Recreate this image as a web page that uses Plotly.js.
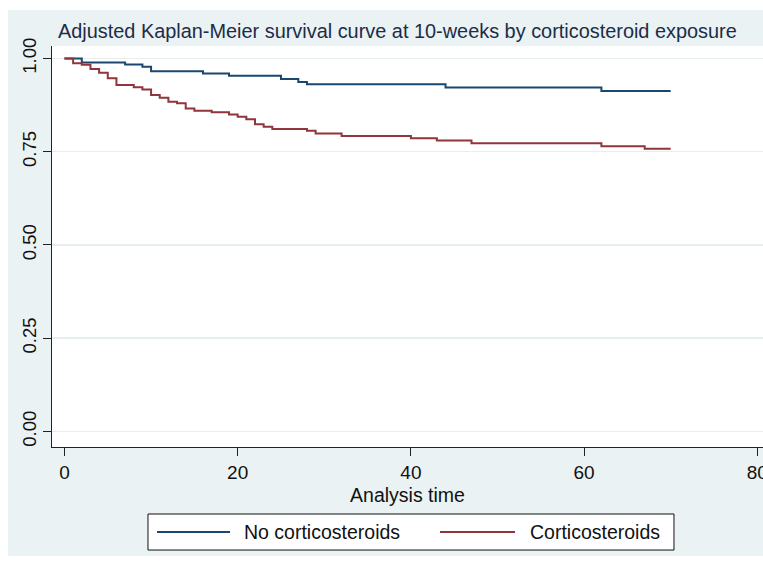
<!DOCTYPE html>
<html>
<head>
<meta charset="utf-8">
<script src="https://cdn.plot.ly/plotly-3.0.1.min.js"></script>
<style>
  html, body { margin: 0; padding: 0; background: #ffffff; overflow: hidden; width: 763px; height: 562px; }
  #chart { position: absolute; left: 8px; top: 10px; width: 755px; height: 546px; }
</style>
</head>
<body>
<div id="chart"></div>
<script>
// ---- data ----
const noSteroidTime = [0, 2, 7, 9, 10, 16, 19, 25, 27, 28, 44, 62, 70];
const noSteroidSurv = [1.0, 0.989, 0.984, 0.978, 0.966, 0.960, 0.954, 0.945, 0.937, 0.931, 0.922, 0.913, 0.913];

const steroidTime = [0, 1, 2, 3, 4, 5, 6, 8, 9, 10, 11, 12, 13, 14, 15, 17, 19, 20, 21, 22, 23, 24, 28, 29, 32, 40, 43, 47, 62, 67, 70];
const steroidSurv = [1.0, 0.987, 0.983, 0.972, 0.962, 0.947, 0.929, 0.923, 0.917, 0.902, 0.895, 0.884, 0.880, 0.866, 0.860, 0.856, 0.850, 0.844, 0.837, 0.824, 0.817, 0.811, 0.806, 0.799, 0.792, 0.786, 0.780, 0.773, 0.765, 0.758, 0.758];

const seriesNames = ["No corticosteroids", "Corticosteroids"];
const xTicks = [0, 20, 40, 60, 80];
const yTicks = [0, 0.25, 0.5, 0.75, 1];
const yTickText = ["0.00", "0.25", "0.50", "0.75", "1.00"];
const chartTitle = "Adjusted Kaplan-Meier survival curve at 10-weeks by corticosteroid exposure";
const xTitle = "Analysis time";

// ---- styling ----
const navy = "#1a476f";
const maroon = "#90353b";
const FONT = "Liberation Sans, Arial, Helvetica, sans-serif";

const traces = [
  { x: noSteroidTime, y: noSteroidSurv, name: seriesNames[0], type: "scatter", mode: "lines",
    line: { shape: "hv", color: navy, width: 2 }, showlegend: false, hoverinfo: "skip" },
  { x: steroidTime, y: steroidSurv, name: seriesNames[1], type: "scatter", mode: "lines",
    line: { shape: "hv", color: maroon, width: 2 }, showlegend: false, hoverinfo: "skip" }
];

// legend box geometry (paper coordinates)
const legY = -0.212;
const layout = {
  width: 755, height: 546,
  margin: { l: 44, r: 0, t: 36, b: 109 },
  paper_bgcolor: "#eaf2f3",
  plot_bgcolor: "#ffffff",
  font: { family: FONT, color: "#111111", size: 18 },
  title: { text: chartTitle, x: 0.0662, xanchor: "left", xref: "container",
           y: 0.9615, yanchor: "middle", yref: "container",
           font: { family: FONT, size: 19.9, color: "#1c2c48" } },
  xaxis: {
    range: [-1.44, 80.66], tickvals: xTicks, ticktext: xTicks.map(String),
    showgrid: false, zeroline: false, showline: true, linecolor: "#222", linewidth: 1,
    ticks: "outside", ticklen: 8, tickcolor: "#222", tickwidth: 1,
    ticklabeloverflow: "allow",
    tickfont: { family: FONT, size: 19, color: "#111" },
    title: { text: xTitle, font: { family: FONT, size: 19.5, color: "#111" }, standoff: 6 }
  },
  yaxis: {
    range: [-0.0416, 1.0335], tickvals: yTicks, ticktext: yTickText,
    showgrid: true, gridcolor: "#e6eef0", gridwidth: 1.5,
    zeroline: false, showline: true, linecolor: "#222", linewidth: 1,
    ticks: "outside", ticklen: 8, tickcolor: "#222", tickwidth: 1, tickangle: -90,
    tickfont: { family: FONT, size: 18.5, color: "#111" }
  },
  shapes: [
    { type: "rect", xref: "paper", yref: "paper", x0: 0.135, x1: 0.8748, y0: -0.2569, y1: -0.1671,
      line: { color: "#111", width: 1 }, fillcolor: "#ffffff", layer: "above" },
    { type: "line", xref: "paper", yref: "paper", x0: 0.1477, x1: 0.2504, y0: legY, y1: legY,
      line: { color: navy, width: 2 } },
    { type: "line", xref: "paper", yref: "paper", x0: 0.5457, x1: 0.6512, y0: legY, y1: legY,
      line: { color: maroon, width: 2 } }
  ],
  annotations: [
    { text: seriesNames[0], xref: "paper", yref: "paper", x: 0.2672, y: legY, xanchor: "left", yanchor: "middle",
      showarrow: false, font: { family: FONT, size: 19.5, color: "#111" } },
    { text: seriesNames[1], xref: "paper", yref: "paper", x: 0.6695, y: legY, xanchor: "left", yanchor: "middle",
      showarrow: false, font: { family: FONT, size: 19.5, color: "#111" } }
  ]
};

Plotly.newPlot("chart", traces, layout, { displayModeBar: false, staticPlot: true });
</script>
</body>
</html>
